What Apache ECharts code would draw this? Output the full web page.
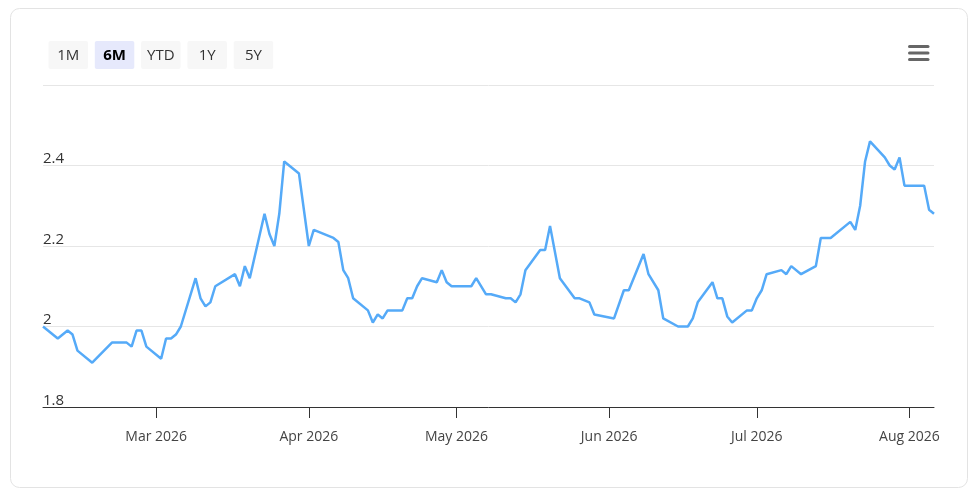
<!DOCTYPE html>
<html>
<head>
<meta charset="utf-8">
<script src="https://cdn.jsdelivr.net/npm/echarts@6/dist/echarts.min.js"></script>
<style>
html,body{margin:0;padding:0;background:#fff;}
#chart{width:977px;height:496px;}
</style>
</head>
<body>
<div id="chart"></div>
<script>
var dates = ['2026-02-06','2026-02-09','2026-02-11','2026-02-12','2026-02-13','2026-02-16','2026-02-20','2026-02-23','2026-02-24','2026-02-25','2026-02-26','2026-02-27',
'2026-03-02','2026-03-03','2026-03-04','2026-03-05','2026-03-06','2026-03-09','2026-03-10','2026-03-11','2026-03-12','2026-03-13','2026-03-17','2026-03-18','2026-03-19','2026-03-20','2026-03-23','2026-03-24','2026-03-25','2026-03-26','2026-03-27','2026-03-30',
'2026-04-01','2026-04-02','2026-04-06','2026-04-07','2026-04-08','2026-04-09','2026-04-10','2026-04-13','2026-04-14','2026-04-15','2026-04-16','2026-04-17','2026-04-20','2026-04-21','2026-04-22','2026-04-23','2026-04-24','2026-04-27','2026-04-28','2026-04-29','2026-04-30',
'2026-05-04','2026-05-05','2026-05-07','2026-05-08','2026-05-11','2026-05-12','2026-05-13','2026-05-14','2026-05-15','2026-05-18','2026-05-19','2026-05-20','2026-05-22','2026-05-25','2026-05-26','2026-05-28','2026-05-29',
'2026-06-02','2026-06-04','2026-06-05','2026-06-08','2026-06-09','2026-06-11','2026-06-12','2026-06-15','2026-06-17','2026-06-18','2026-06-19','2026-06-22','2026-06-23','2026-06-24','2026-06-25','2026-06-26','2026-06-29','2026-06-30',
'2026-07-01','2026-07-02','2026-07-03','2026-07-06','2026-07-07','2026-07-08','2026-07-10','2026-07-13','2026-07-14','2026-07-16','2026-07-20','2026-07-21','2026-07-22','2026-07-23','2026-07-24','2026-07-27','2026-07-28','2026-07-29','2026-07-30','2026-07-31',
'2026-08-04','2026-08-05','2026-08-06'];
var values = [2.00,1.97,1.99,1.98,1.94,1.91,1.96,1.96,1.95,1.99,1.99,1.95,
1.92,1.97,1.97,1.98,2.00,2.12,2.07,2.05,2.06,2.10,2.13,2.10,2.15,2.12,2.28,2.23,2.20,2.28,2.41,2.38,
2.20,2.24,2.22,2.21,2.14,2.12,2.07,2.04,2.01,2.03,2.02,2.04,2.04,2.07,2.07,2.10,2.12,2.11,2.14,2.11,2.10,
2.10,2.12,2.08,2.08,2.07,2.07,2.06,2.08,2.14,2.19,2.19,2.25,2.12,2.07,2.07,2.06,2.03,
2.02,2.09,2.09,2.18,2.13,2.09,2.02,2.00,2.00,2.02,2.06,2.11,2.07,2.07,2.025,2.01,2.04,2.04,
2.07,2.09,2.13,2.14,2.13,2.15,2.13,2.15,2.22,2.22,2.26,2.24,2.30,2.41,2.46,2.42,2.40,2.39,2.42,2.35,
2.35,2.29,2.28];
var xStart = '2026-02-06';
var xEnd = '2026-08-06';
var monthTicks = ['2026-03-01','2026-04-01','2026-05-01','2026-06-01','2026-07-01','2026-08-01'];
var monthNames = ['Jan','Feb','Mar','Apr','May','Jun','Jul','Aug','Sep','Oct','Nov','Dec'];
var rangeButtons = ['1M','6M','YTD','1Y','5Y'];
var selectedRange = '6M';
var yMin = 1.8, yMax = 2.6, yStep = 0.2;

function ts(s){ var p = s.split('-'); return new Date(+p[0], +p[1]-1, +p[2]).getTime(); }

var chart = echarts.init(document.getElementById('chart'), null, {renderer:'canvas'});
var FONT = '"Open Sans", "Noto Sans", sans-serif';

var graphics = [{
  type:'rect', silent:true, z:-10,
  shape:{x:10.5, y:8.5, width:957, height:479, r:9},
  style:{fill:'#fff', stroke:'#e3e3e3', lineWidth:1}
}];
rangeButtons.forEach(function(b, i){
  var sel = b === selectedRange;
  var x = 48.5 + i*46.3;
  graphics.push({
    type:'rect', silent:true,
    shape:{x:x, y:41, width:39.5, height:28, r:2},
    style:{fill: sel ? '#e6e9fc' : '#f7f7f7'}
  });
  graphics.push({
    type:'text', silent:true,
    x: x + 19.75, y: 55.5,
    style:{text:b, fill: sel ? '#000' : '#333', font:(sel ? 'bold ' : '') + '15px ' + FONT, align:'center', verticalAlign:'middle'}
  });
});
[46.5, 53, 59.5].forEach(function(y){
  graphics.push({
    type:'line', silent:true,
    shape:{x1:909.5, y1:y, x2:928, y2:y},
    style:{stroke:'#666', lineWidth:3, lineCap:'round'}
  });
});

var tickVals = monthTicks.map(ts);
var option = {
  animation:false,
  grid:{left:43, right:43, top:85, bottom:89, containLabel:false},
  graphic: graphics,
  xAxis:{
    type:'value',
    min: ts(xStart), max: ts(xEnd),
    axisLine:{show:true, lineStyle:{color:'#333', width:1}},
    axisTick:{show:true, length:11, lineStyle:{color:'#333'}, customValues: tickVals},
    axisLabel:{
      customValues: tickVals,
      margin:23, color:'#444', fontSize:14, fontFamily:FONT,
      formatter:function(v){ var d = new Date(v); return monthNames[d.getMonth()] + ' ' + d.getFullYear(); }
    },
    splitLine:{show:false}
  },
  yAxis:{
    type:'value', min:yMin, max:yMax, interval:yStep,
    axisLine:{show:false}, axisTick:{show:false},
    splitLine:{show:true, lineStyle:{color:'#e6e6e6', width:1}},
    axisLabel:{
      inside:true, margin:0, align:'left', verticalAlign:'bottom',
      color:'#333', fontSize:15, fontFamily:FONT, lineHeight:13, padding:0,
      showMaxLabel:false,
      formatter:function(v){ return Math.abs(v - yMax) < 1e-9 ? '' : String(+v.toFixed(2)); }
    }
  },
  series:[{
    type:'line',
    data: dates.map(function(d, i){ return [ts(d), values[i]]; }),
    showSymbol:false, symbol:'none',
    lineStyle:{color:'#55aaf8', width:2.5},
    itemStyle:{color:'#55aaf8'}
  }]
};
chart.setOption(option);
</script>
</body>
</html>
